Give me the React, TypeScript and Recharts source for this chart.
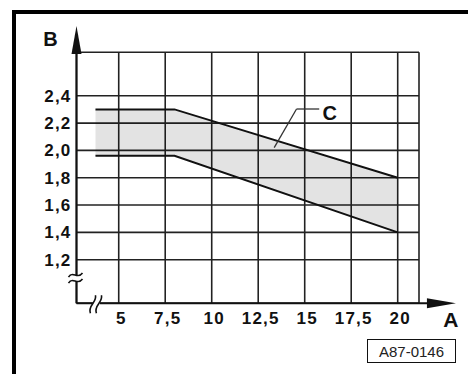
import { ComposedChart, Area, Line, XAxis, YAxis, CartesianGrid, ReferenceLine, ReferenceDot } from 'recharts';

// A values (x) and the two limit curves B (y) that bound the shaded zone C
const aValues = [3.75, 8, 20];
const bUpper = [2.3, 2.3, 1.8];
const bLower = [1.96, 1.96, 1.4];

const xTicks = [5, 7.5, 10, 12.5, 15, 17.5, 20];
const yTicks = [1.2, 1.4, 1.6, 1.8, 2.0, 2.2, 2.4];

const xDomain: [number, number] = [2.73, 21.145];
const yDomain: [number, number] = [0.881, 2.718];

// axis ends, breaks and the leader for label C (data units)
const xArrowTip = 23.13;
const yArrowTip = 2.91;
const xBreakAt = 3.8;
const yBreakAt = 1.066;
const leaderC = [
  { x: 13.36, y: 2.02 },
  { x: 14.56, y: 2.303 },
  { x: 15.78, y: 2.303 },
];
const labelC = { x: 15.96, y: 2.222 };

const data = aValues.map((a, i) => ({
  a,
  upper: bUpper[i],
  lower: bLower[i],
  band: [bLower[i], bUpper[i]],
}));

const FONT = '"Liberation Sans", Arial, Helvetica, sans-serif';
const INK = '#111';

const XTick = ({ x, y, payload }: any) => (
  <text x={x + 2.5} y={y + 21} textAnchor="middle" fontSize={17} fontWeight="bold" fontFamily={FONT} letterSpacing={1.2} fill={INK}>
    {String(payload.value).replace('.', ',')}
  </text>
);

const YTick = ({ x, y, payload }: any) => (
  <text x={x} y={y + 6} textAnchor="end" fontSize={17} fontWeight="bold" fontFamily={FONT} letterSpacing={1.2} fill={INK}>
    {Number(payload.value).toFixed(1).replace('.', ',')}
  </text>
);

const YArrow = ({ cx, cy }: any) => (
  <g>
    <polygon points={`${cx},${cy} ${cx - 5},${cy + 28} ${cx + 5},${cy + 28}`} fill={INK} />
    <text x={cx - 26} y={cy + 20} textAnchor="middle" fontSize={20} fontWeight="bold" fontFamily={FONT} fill={INK}>B</text>
  </g>
);

const XArrow = ({ cx, cy }: any) => (
  <g>
    <polygon points={`${cx},${cy} ${cx - 29},${cy - 5} ${cx - 29},${cy + 5}`} fill={INK} />
    <text x={cx - 5} y={cy + 24} textAnchor="middle" fontSize={21} fontWeight="bold" fontFamily={FONT} fill={INK}>A</text>
  </g>
);

const YBreak = ({ cx, cy }: any) => (
  <g fill="none" stroke={INK} strokeWidth={1.6}>
    <rect x={cx - 3} y={cy - 3} width={6} height={6} fill="#fff" stroke="none" />
    <path d={`M${cx - 8},${cy - 1} C${cx - 4},${cy - 8} ${cx + 1},${cy + 2} ${cx + 6},${cy - 5}`} />
    <path d={`M${cx - 8},${cy + 5} C${cx - 4},${cy - 2} ${cx + 1},${cy + 8} ${cx + 6},${cy + 1}`} />
  </g>
);

const XBreak = ({ cx, cy }: any) => (
  <g fill="none" stroke={INK} strokeWidth={1.6}>
    <rect x={cx - 3.5} y={cy - 3} width={7} height={6} fill="#fff" stroke="none" />
    <path d={`M${cx - 6},${cy + 10} C${cx - 9},${cy + 2} ${cx + 1},${cy - 1} ${cx - 1},${cy - 8}`} />
    <path d={`M${cx},${cy + 10} C${cx - 3},${cy + 2} ${cx + 7},${cy - 1} ${cx + 5},${cy - 8}`} />
  </g>
);

const TextC = ({ cx, cy }: any) => (
  <text x={cx} y={cy} fontSize={20} fontWeight="bold" fontFamily={FONT} fill={INK}>C</text>
);

const App = () => (
  <div style={{ position: 'absolute', left: 0, top: 0, width: 468, height: 374, overflow: 'hidden', background: '#fff' }}>
    <div
      style={{
        position: 'absolute', left: 12, top: 10, width: 470, height: 380,
        borderTop: '4px solid #000', borderLeft: '4px solid #000', boxSizing: 'border-box',
      }}
    />
    <div style={{ position: 'absolute', left: 0, top: 0 }}>
      <ComposedChart width={468} height={374} data={data} margin={{ top: 52.3, right: 49, left: 0, bottom: 40.7 }}>
        <CartesianGrid stroke="#222" strokeWidth={1.6} />
        <XAxis
          dataKey="a"
          type="number"
          domain={xDomain}
          ticks={xTicks}
          interval={0}
          allowDataOverflow
          axisLine={false}
          tickLine={false}
          tickSize={0}
          tickMargin={0}
          height={30}
          tick={(p: any) => <XTick {...p} />}
        />
        <YAxis
          type="number"
          domain={yDomain}
          ticks={yTicks}
          interval={0}
          allowDataOverflow
          axisLine={false}
          tickLine={false}
          tickSize={0}
          tickMargin={5}
          width={76.5}
          tick={(p: any) => <YTick {...p} />}
        />
        <Area dataKey="band" type="linear" stroke="none" fill="#000" fillOpacity={0.11} isAnimationActive={false} />
        <Line dataKey="upper" type="linear" stroke={INK} strokeWidth={2} dot={false} isAnimationActive={false} />
        <Line dataKey="lower" type="linear" stroke={INK} strokeWidth={2} dot={false} isAnimationActive={false} />
        <ReferenceLine
          segment={[{ x: xDomain[0], y: yDomain[0] }, { x: xDomain[0], y: yArrowTip - 0.15 }]}
          stroke={INK}
          strokeWidth={2}
          ifOverflow="visible"
        />
        <ReferenceLine
          segment={[{ x: xDomain[0], y: yDomain[0] }, { x: xArrowTip - 1.4, y: yDomain[0] }]}
          stroke={INK}
          strokeWidth={2}
          ifOverflow="visible"
        />
        <ReferenceLine segment={[leaderC[0], leaderC[1]]} stroke="#333" strokeWidth={1.3} ifOverflow="visible" />
        <ReferenceLine segment={[leaderC[1], leaderC[2]]} stroke="#333" strokeWidth={1.3} ifOverflow="visible" />
        <ReferenceDot x={xDomain[0]} y={yArrowTip} ifOverflow="visible" shape={(p: any) => <YArrow {...p} />} />
        <ReferenceDot x={xArrowTip} y={yDomain[0]} ifOverflow="visible" shape={(p: any) => <XArrow {...p} />} />
        <ReferenceDot x={xDomain[0]} y={yBreakAt} ifOverflow="visible" shape={(p: any) => <YBreak {...p} />} />
        <ReferenceDot x={xBreakAt} y={yDomain[0]} ifOverflow="visible" shape={(p: any) => <XBreak {...p} />} />
        <ReferenceDot x={labelC.x} y={labelC.y} ifOverflow="visible" shape={(p: any) => <TextC {...p} />} />
      </ComposedChart>
    </div>
    <div
      style={{
        position: 'absolute', left: 367, top: 339, width: 89, height: 24, boxSizing: 'border-box',
        border: '1.5px solid #111', fontFamily: FONT, fontSize: 15, color: '#222',
        display: 'flex', alignItems: 'center', justifyContent: 'center',
      }}
    >
      A87-0146
    </div>
  </div>
);

export default App;
